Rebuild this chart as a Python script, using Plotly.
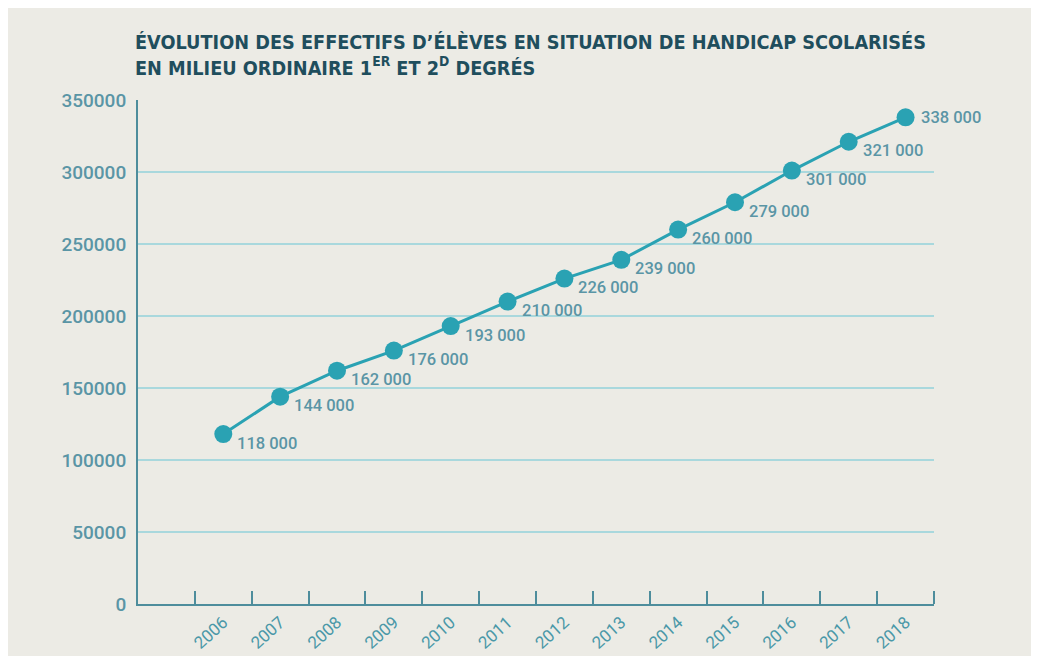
import plotly.graph_objects as go

years = [2006, 2007, 2008, 2009, 2010, 2011, 2012, 2013, 2014, 2015, 2016, 2017, 2018]
effectifs = [118000, 144000, 162000, 176000, 193000, 210000, 226000, 239000, 260000, 279000, 301000, 321000, 338000]
y_ticks = [0, 50000, 100000, 150000, 200000, 250000, 300000, 350000]
title_text = ("ÉVOLUTION DES EFFECTIFS D’ÉLÈVES EN SITUATION DE HANDICAP SCOLARISÉS<br>"
              "EN MILIEU ORDINAIRE 1<sup>ER</sup> ET 2<sup>D</sup> DEGRÉS")

labels = [f"{v:,}".replace(",", " ") for v in effectifs]
sep_ticks = [y - 0.5 for y in years] + [years[-1] + 0.5]

BG = "#ecebe5"
LINE = "#2aa2b3"
AXIS = "#4e8d9c"
TXT = "#5a95a5"
XTXT = "#4a98a8"
GRID = "#a9d8dd"

W, H = 1023, 648

fig = go.Figure()
fig.add_trace(go.Scatter(
    x=years, y=effectifs, mode="lines+markers",
    line=dict(color=LINE, width=3),
    marker=dict(color=LINE, size=18),
    cliponaxis=False, hoverinfo="skip",
))

last = len(years) - 1
for i, (x, y, t) in enumerate(zip(years, effectifs, labels)):
    is_last = i == last
    fig.add_annotation(
        x=x, y=y, text=t, showarrow=False,
        xanchor="left", yanchor="middle",
        xshift=13 if is_last else 12, yshift=0 if is_last else -9,
        font=dict(family="Roboto", size=16.5, color=TXT, weight=500),
    )

fig.update_layout(
    width=W, height=H,
    paper_bgcolor=BG, plot_bgcolor=BG,
    margin=dict(l=130, r=97, t=92, b=52),
    showlegend=False,
    title=dict(
        text=title_text, x=127/W, xref="container", xanchor="left",
        y=1-41/H, yref="container", yanchor="top",
        font=dict(family="DejaVu Sans Condensed", size=19.7, color="#1f4e5d", weight=700),
    ),
    xaxis=dict(
        range=[years[0] - 1.5, years[-1] + 0.5],
        tickmode="array", tickvals=years, ticktext=[str(y) for y in years],
        ticks="", tickangle=-42, automargin=False,
        tickfont=dict(family="Roboto", size=17, color=XTXT),
        showgrid=False, zeroline=False,
        showline=True, linecolor=AXIS, linewidth=2,
        minor=dict(tickmode="array", tickvals=sep_ticks, ticks="inside",
                   ticklen=13, tickcolor=AXIS, tickwidth=1.5, showgrid=False),
    ),
    yaxis=dict(
        range=[0, 350000], tickmode="array", tickvals=y_ticks,
        ticktext=[str(v) for v in y_ticks], automargin=False,
        ticks="", ticklabelstandoff=6,
        tickfont=dict(family="Roboto", size=19, color=TXT, weight=500),
        showgrid=True, gridcolor=GRID, gridwidth=1.5,
        zeroline=False, showline=True, linecolor=AXIS, linewidth=2,
    ),
)

fig.write_html("out.html")
